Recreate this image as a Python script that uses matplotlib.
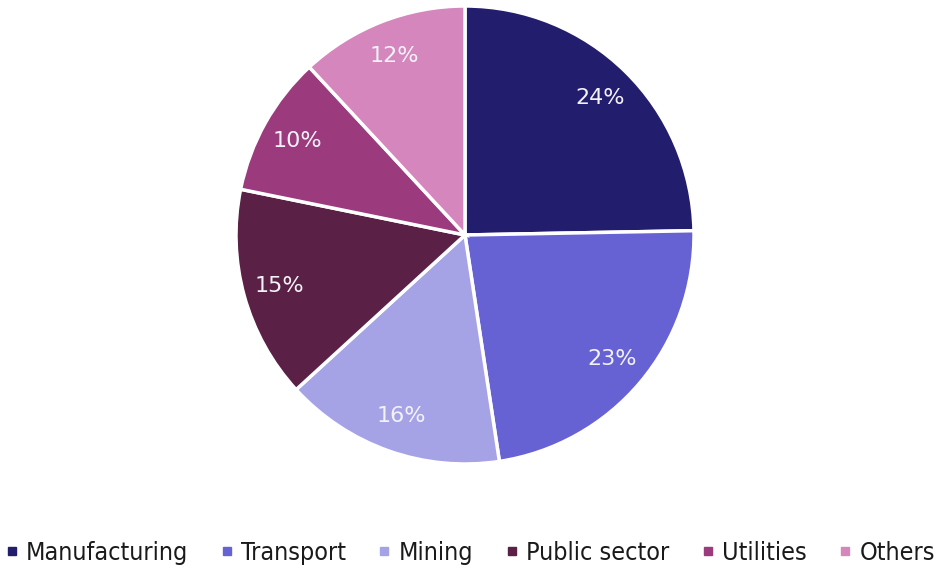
import matplotlib
matplotlib.use("Agg")
import matplotlib.pyplot as plt
from matplotlib.lines import Line2D
from matplotlib.font_manager import FontProperties

# data (wedge sizes read from the slice boundaries, labels as printed)
sectors = ['Manufacturing', 'Transport', 'Mining', 'Public sector', 'Utilities', 'Others']
shares = [24.7, 22.9, 15.6, 15.0, 9.9, 11.9]
pct_labels = ['24%', '23%', '16%', '15%', '10%', '12%']
colors = ['#231d6e', '#6762d4', '#a5a3e6', '#5a2045', '#9b3a7d', '#d486bd']

fig = plt.figure(figsize=(9.37, 5.74), dpi=100)
# pie centred at about (465, 235) px with radius ~229 px
ax = fig.add_axes([236 / 937, 110 / 574, 458 / 937, 458 / 574])

wedges, texts = ax.pie(
	shares, colors=colors, startangle=90, counterclock=False,
	labels=pct_labels, labeldistance=0.84,
	wedgeprops=dict(edgecolor='white', linewidth=2.5),
	textprops=dict(color='#f2f2f8', fontsize=16)
)
for t in texts:
	t.set_horizontalalignment('center')
	t.set_verticalalignment('center')
ax.set_xlim(-1, 1)
ax.set_ylim(-1, 1)
ax.set_aspect('equal')
ax.axis('off')

legend_font = FontProperties(family='DejaVu Sans', stretch='condensed', size=18)
handles = [Line2D([], [], marker='s', linestyle='none', markersize=5.5,
                  markerfacecolor=c, markeredgecolor=c) for c in colors]
fig.legend(handles, sectors, loc='center', bbox_to_anchor=(471 / 937, 21 / 574),
           ncol=6, frameon=False, handlelength=0.4, handletextpad=0.38,
           columnspacing=1.33, prop=legend_font, labelcolor='#1a1a1a')

fig.savefig('out.png', dpi=100)
